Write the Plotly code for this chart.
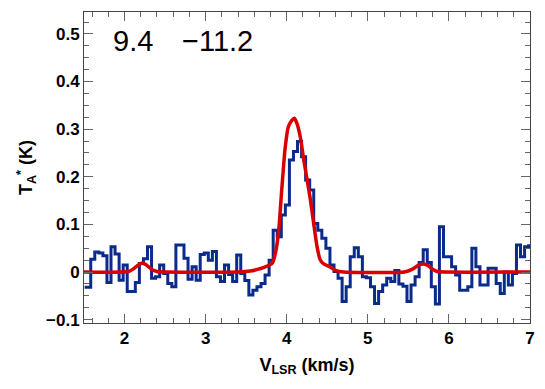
import plotly.graph_objects as go

# spectrum channels (km/s grid) and antenna temperature (K)
v_start = 1.508
dv = 0.05
ta_obs = [
    -0.032, -0.032, 0.027, 0.042, 0.040, 0.034, -0.022, 0.053, 0.038, -0.017,
    0.015, -0.041, -0.041, -0.022, 0.018, 0.028, 0.053, -0.013, -0.010, 0.015,
    -0.003, -0.024, -0.031, 0.057, 0.057, 0.029, -0.015, 0.011, -0.017, 0.037,
    0.040, 0.025, 0.043, -0.010, -0.020, 0.015, -0.005, -0.020, 0.036, -0.003,
    -0.018, -0.048, -0.038, -0.031, -0.024, -0.006, 0.025, 0.088, 0.074, 0.120,
    0.141, 0.235, 0.253, 0.274, 0.242, 0.193, 0.172, 0.102, 0.088, 0.071,
    0.050, 0.015, 0.001, -0.013, -0.062, -0.031, 0.032, 0.051, 0.032, -0.010,
    -0.012, -0.031, -0.066, -0.041, -0.027, -0.013, -0.020, 0.003, -0.025, -0.030,
    -0.062, -0.027, -0.010, 0.020, 0.047, 0.020, -0.031, -0.067, 0.095, 0.032,
    0.032, 0.011, -0.006, -0.038, -0.038, -0.031, 0.050, 0.011, -0.027, -0.027,
    0.008, 0.008, -0.024, -0.045, 0.000, -0.027, -0.003, 0.057, 0.032, 0.053,
    0.055,
]
v_obs = [v_start + dv * i for i in range(len(ta_obs))]

# fitted model
v_fit = [1.50, 2.05, 2.12, 2.20, 2.26, 2.33, 2.40, 2.50, 3.40, 3.55, 3.65, 3.72,
         3.78, 3.82, 3.86, 3.90, 3.94, 3.98, 4.02, 4.065, 4.094, 4.126, 4.167,
         4.207, 4.248, 4.289, 4.329, 4.37, 4.41, 4.45, 4.53, 4.61, 4.70, 5.45,
         5.55, 5.62, 5.68, 5.74, 5.80, 5.86, 5.95, 7.0]
ta_fit = [0.000, 0.001, 0.008, 0.018, 0.016, 0.006, 0.001, 0.000, 0.000, 0.002,
          0.006, 0.010, 0.014, 0.018, 0.039, 0.085, 0.176, 0.260, 0.305, 0.319,
          0.323, 0.312, 0.284, 0.239, 0.197, 0.155, 0.106, 0.057, 0.027, 0.018,
          0.011, 0.003, 0.000, 0.000, 0.006, 0.014, 0.017, 0.014, 0.006, 0.001,
          0.000, 0.000]

label_left = "9.4"
label_right = "\u221211.2"

fig = go.Figure()

fig.add_trace(go.Scatter(
    x=v_obs, y=ta_obs, mode='lines', line_shape='hvh',
    line=dict(color='#0a2a8c', width=3), showlegend=False
))
fig.add_trace(go.Scatter(
    x=v_fit, y=ta_fit, mode='lines', line_shape='spline',
    line=dict(color='#d80000', width=3.5, smoothing=0.5), showlegend=False
))

# labels in the upper left corner
for txt, xp in [(label_left, 0.060), (label_right, 0.215)]:
    fig.add_annotation(
        text=txt, xref='paper', yref='paper', x=xp, y=0.908,
        xanchor='left', yanchor='middle', showarrow=False,
        font=dict(family='Liberation Sans', size=29, color='black')
    )

axis_common = dict(
    showline=True, linecolor='#444', linewidth=1, mirror='ticks',
    ticks='inside', tickcolor='#666', ticklen=9, showgrid=False, zeroline=False,
    tickfont=dict(family='Liberation Sans', size=17, color='black', weight='bold'),
)

fig.update_layout(
    width=545, height=389,
    margin=dict(l=84, r=10, t=12, b=66),
    paper_bgcolor='white', plot_bgcolor='white',
    xaxis=dict(
        range=[1.5, 7.0], dtick=1, tick0=0, ticklabeloverflow='allow',
        minor=dict(ticks='inside', dtick=0.2, tick0=0, ticklen=5, tickcolor='#666'),
        title=dict(text='V<sub>LSR</sub> (km/s)', standoff=10,
                   font=dict(family='Liberation Sans', size=18, color='black', weight='bold')),
        **axis_common
    ),
    yaxis=dict(
        range=[-0.107, 0.546], dtick=0.1, tick0=0,
        minor=dict(ticks='inside', dtick=0.025, tick0=0, ticklen=5, tickcolor='#666'),
        title=dict(text='T<sub>A</sub><sup>*</sup> (K)', standoff=8,
                   font=dict(family='Liberation Sans', size=18, color='black', weight='bold')),
        **axis_common
    ),
)

# drop the default 8px page margin so the figure sits at the window corner
fig.write_html("out.html", config={'displayModeBar': False},
               post_script="document.body.style.margin = '0';")
